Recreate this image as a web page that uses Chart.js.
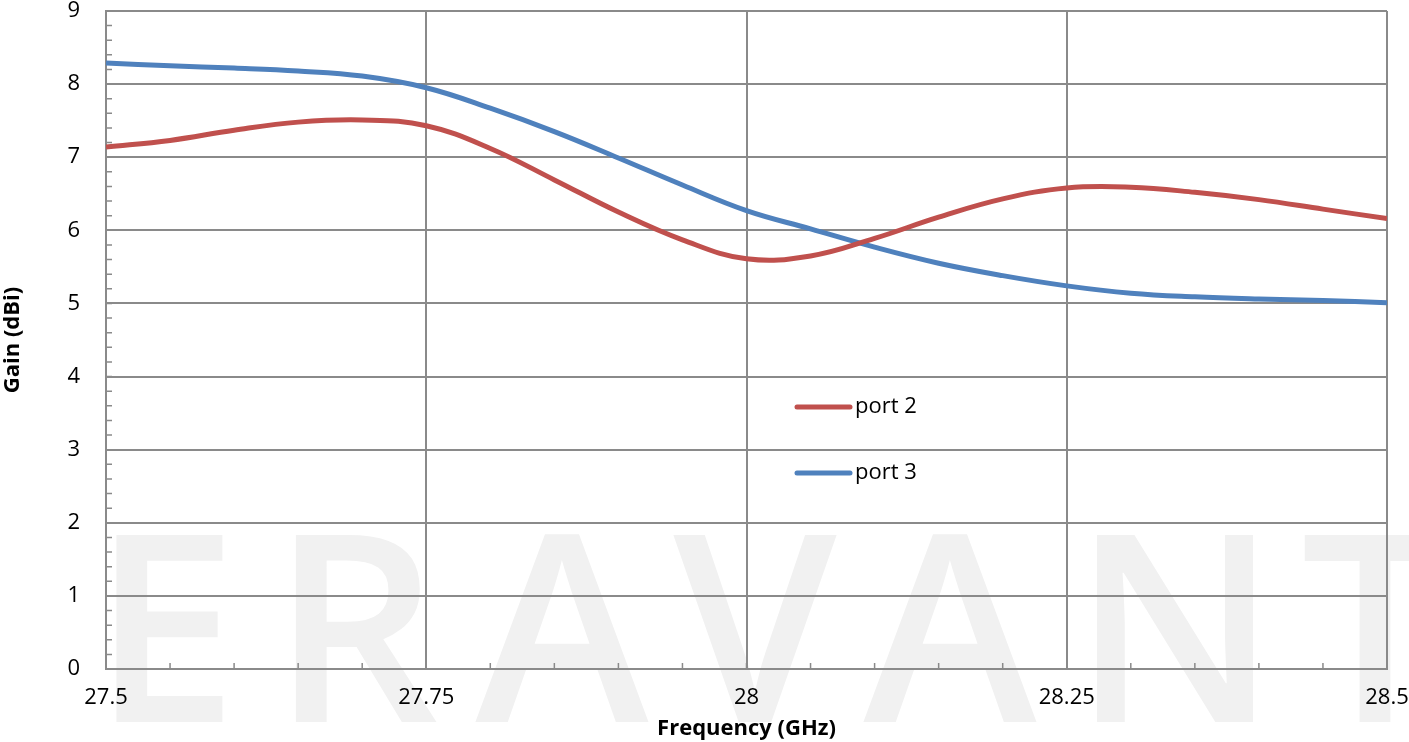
<!DOCTYPE html>
<html>
<head>
<meta charset="utf-8">
<script src="https://cdn.jsdelivr.net/npm/chart.js@4"></script>
<style>
  html, body { margin: 0; padding: 0; background: #ffffff; }
  #wrap { width: 1409px; height: 742px; position: relative; }
</style>
</head>
<body>
<div id="wrap"><canvas id="c" width="1409" height="742"></canvas></div>
<script>
// Frequency points (GHz)
const freqs = [27.5, 27.55, 27.6, 27.65, 27.7, 27.75, 27.8, 27.85, 27.9, 27.95, 28.0,
               28.05, 28.1, 28.15, 28.2, 28.25, 28.3, 28.35, 28.4, 28.45, 28.5];
// Gain (dBi) per port
const port2 = [7.14, 7.23, 7.37, 7.48, 7.51, 7.43, 7.12, 6.69, 6.25, 5.87, 5.61,
               5.65, 5.89, 6.18, 6.43, 6.58, 6.59, 6.52, 6.42, 6.29, 6.16];
const port3 = [8.29, 8.25, 8.22, 8.18, 8.11, 7.95, 7.67, 7.35, 6.99, 6.62, 6.27,
               6.02, 5.77, 5.55, 5.38, 5.24, 5.14, 5.09, 5.06, 5.04, 5.01];
const seriesLabels = ['port 2', 'port 3'];
const xTicks = [27.5, 27.75, 28, 28.25, 28.5];
const yTicks = [0, 1, 2, 3, 4, 5, 6, 7, 8, 9];

const FONT = '"Open Sans", "DejaVu Sans", sans-serif';
const GRID = '#8a8a8a';

const toPoints = (ys) => freqs.map((f, i) => ({ x: f, y: ys[i] }));

// faint brand mark behind the grid
const watermark = {
  id: 'watermark',
  beforeDraw(chart) {
    const ctx = chart.ctx;
    ctx.save();
    ctx.fillStyle = '#f1f1f1';
    ctx.font = '600 262px ' + FONT;
    ctx.textAlign = 'center';
    ctx.textBaseline = 'alphabetic';
    const letters = ['E', 'R', 'A', 'V', 'A', 'N', 'T'];
    const xs = [165, 355, 562, 755, 950, 1175, 1375];
    letters.forEach((l, i) => ctx.fillText(l, xs[i], 722));
    ctx.restore();
  }
};

// minor tick marks pointing into the plot
const minorTicks = {
  id: 'minorTicks',
  beforeDatasetsDraw(chart) {
    const { ctx, scales: { x, y }, chartArea: a } = chart;
    ctx.save();
    ctx.strokeStyle = GRID;
    ctx.lineWidth = 1.5;
    ctx.beginPath();
    for (let k = 0; k <= 20; k++) {
      const px = x.getPixelForValue(27.5 + k * 0.05);
      ctx.moveTo(px, a.bottom);
      ctx.lineTo(px, a.bottom - 6);
    }
    for (let k = 0; k <= 45; k++) {
      const py = y.getPixelForValue(k * 0.2);
      ctx.moveTo(a.left, py);
      ctx.lineTo(a.left + 6, py);
    }
    ctx.stroke();
    ctx.restore();
  }
};

// legend drawn inside the plot area
const innerLegend = {
  id: 'innerLegend',
  afterDatasetsDraw(chart) {
    const ctx = chart.ctx;
    const a = chart.chartArea;
    const x0 = a.left + 691;
    const rows = [a.top + 396, a.top + 462];
    ctx.save();
    ctx.font = '22px ' + FONT;
    ctx.textBaseline = 'middle';
    ctx.fillStyle = '#000';
    chart.data.datasets.forEach((ds, i) => {
      ctx.strokeStyle = ds.borderColor;
      ctx.lineWidth = 5;
      ctx.lineCap = 'round';
      ctx.beginPath();
      ctx.moveTo(x0, rows[i]);
      ctx.lineTo(x0 + 53, rows[i]);
      ctx.stroke();
      ctx.fillText(ds.label, x0 + 58, rows[i]);
    });
    ctx.restore();
  }
};

new Chart(document.getElementById('c'), {
  type: 'line',
  data: {
    datasets: [
      { label: seriesLabels[0], data: toPoints(port2), borderColor: '#C0504D',
        borderWidth: 5, pointRadius: 0, tension: 0.4, fill: false },
      { label: seriesLabels[1], data: toPoints(port3), borderColor: '#4F81BD',
        borderWidth: 5, pointRadius: 0, tension: 0.4, fill: false }
    ]
  },
  options: {
    responsive: false,
    animation: false,
    devicePixelRatio: 1,
    layout: { padding: { top: 11, right: 22, left: 0, bottom: 0 } },
    plugins: { legend: { display: false }, tooltip: { enabled: false } },
    scales: {
      x: {
        type: 'linear',
        min: 27.5, max: 28.5,
        afterFit: (s) => { s.height = 73; s.paddingLeft = 0; s.paddingRight = 0; },
        afterBuildTicks: (s) => { s.ticks = xTicks.map(v => ({ value: v })); },
        grid: { color: GRID, lineWidth: 2, drawTicks: false },
        border: { color: GRID, width: 2 },
        ticks: { padding: 16, color: '#000', font: { family: FONT, size: 22 },
                 maxRotation: 0, callback: (v) => String(v) },
        title: { display: true, text: 'Frequency (GHz)', color: '#000',
                 font: { family: FONT, size: 22, weight: 'bold' }, padding: { top: 0, bottom: 0 } }
      },
      y: {
        min: 0, max: 9,
        afterFit: (s) => { s.width = 106; s.paddingTop = 0; s.paddingBottom = 0; },
        afterBuildTicks: (s) => { s.ticks = yTicks.map(v => ({ value: v })); },
        grid: { color: GRID, lineWidth: 2, drawTicks: false },
        border: { color: GRID, width: 2 },
        ticks: { padding: 26, color: '#000', font: { family: FONT, size: 22 } },
        title: { display: true, text: 'Gain (dBi)', color: '#000',
                 font: { family: FONT, size: 22, weight: 'bold' }, padding: { top: 0, bottom: 0 } }
      }
    }
  },
  plugins: [watermark, minorTicks, innerLegend]
});
</script>
</body>
</html>
